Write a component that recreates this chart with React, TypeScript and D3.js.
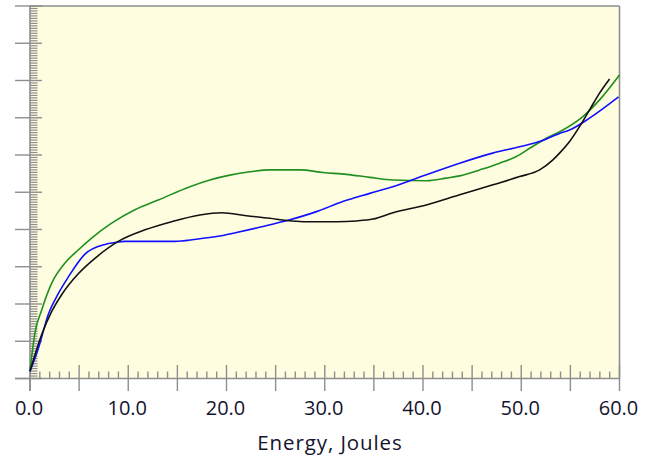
import React from "react";
import * as d3 from "d3";

// Energy absorbed (Joules) on the x axis, response on an unlabelled 0–10 scale.
const greenEnergy = [0, 0.51, 1.19, 2.21, 3.56, 4.91, 6.27, 8.31, 10.68, 13.05, 16.27, 18.31, 20.34, 22.38, 24.41, 27.46, 29.83, 32.21, 34.58, 36.95, 40.34, 42.38, 43.73, 45.76, 47.8, 49.5, 50.85, 52.55, 54.24, 56.27, 57.97, 60];
const greenValue = [0.2, 1.23, 1.84, 2.56, 3.1, 3.45, 3.77, 4.17, 4.53, 4.79, 5.15, 5.33, 5.46, 5.55, 5.6, 5.6, 5.53, 5.48, 5.4, 5.33, 5.31, 5.38, 5.44, 5.6, 5.78, 5.96, 6.18, 6.45, 6.67, 7.03, 7.48, 8.15];

const blueEnergy = [0, 0.84, 1.86, 2.88, 3.89, 5.59, 7.63, 8.64, 9.66, 14.75, 16.95, 18.99, 21.02, 23.7, 26.44, 29.16, 31.83, 34.58, 36.92, 40.34, 43.73, 47.09, 49.83, 51.87, 53.9, 54.92, 56.95, 59.9];
const blueValue = [0.19, 0.8, 1.72, 2.28, 2.72, 3.34, 3.6, 3.65, 3.68, 3.68, 3.74, 3.81, 3.92, 4.08, 4.26, 4.48, 4.75, 4.97, 5.15, 5.47, 5.78, 6.05, 6.22, 6.36, 6.58, 6.67, 6.99, 7.56];

const blackEnergy = [0, 1.19, 2.21, 3.22, 4.91, 6.95, 8.98, 11.7, 14.41, 17.29, 19.5, 22.04, 24.41, 26.11, 27.8, 31.19, 33.22, 34.91, 36.95, 40.34, 43.73, 47.12, 49.83, 51.87, 53.22, 53.9, 54.92, 55.93, 56.95, 57.97, 58.99];
const blackValue = [0.2, 1.18, 1.8, 2.25, 2.81, 3.3, 3.68, 3.99, 4.21, 4.39, 4.45, 4.37, 4.3, 4.24, 4.21, 4.21, 4.23, 4.28, 4.45, 4.66, 4.93, 5.2, 5.42, 5.6, 5.87, 6.05, 6.36, 6.76, 7.21, 7.66, 8.04];

const xTickLabels = ["0.0", "10.0", "20.0", "30.0", "40.0", "50.0", "60.0"];
const xAxisTitle = "Energy, Joules";

const W = 657;
const H = 461;
const left = 30;
const right = 619.5;
const top = 6;
const bottom = 378.5;

const axisColor = "#8e8e8e";
const textColor = "#14142e";

export default function App() {
  const x = d3.scaleLinear().domain([0, 60]).range([left, right]);
  const y = d3.scaleLinear().domain([0, 10]).range([bottom, top]);

  const series = [
    { name: "green", color: "#1f8f1f", xs: greenEnergy, ys: greenValue },
    { name: "blue", color: "#1010ff", xs: blueEnergy, ys: blueValue },
    { name: "black", color: "#111111", xs: blackEnergy, ys: blackValue },
  ];

  const line = d3
    .line<[number, number]>()
    .x((d) => x(d[0]))
    .y((d) => y(d[1]))
    .curve(d3.curveMonotoneX);

  const xMinor = d3.range(0, 61, 1);
  const yMinor = d3.range(0, 150 + 1, 1).map((i) => i / 15);

  return (
    <svg
      width={W}
      height={H}
      style={{ position: "absolute", left: 0, top: 0, background: "#ffffff" }}
    >
      <rect x={left} y={top} width={right - left} height={bottom - top} fill="#fffde0" />

      {/* ticks along the energy axis: every joule, longer every five */}
      {xMinor.map((v) =>
        v % 5 === 0 ? (
          <line key={"xm" + v} x1={x(v)} x2={x(v)} y1={bottom - 13.5} y2={bottom + 12.5} stroke={axisColor} strokeWidth={1.4} />
        ) : (
          <line key={"xm" + v} x1={x(v)} x2={x(v)} y1={bottom - 7} y2={bottom} stroke={axisColor} strokeWidth={1.4} />
        )
      )}

      {/* ticks along the vertical axis */}
      {yMinor.map((v, i) =>
        i % 15 === 0 ? (
          <line key={"ym" + i} x1={left - 15} x2={left + 12} y1={y(v)} y2={y(v)} stroke={axisColor} strokeWidth={1.4} />
        ) : (
          <line key={"ym" + i} x1={left} x2={left + 7.5} y1={y(v)} y2={y(v)} stroke={axisColor} strokeWidth={1.2} />
        )
      )}

      {/* frame */}
      <line x1={left - 15} x2={right} y1={bottom} y2={bottom} stroke={axisColor} strokeWidth={1.6} />
      <line x1={left} x2={right} y1={top} y2={top} stroke={axisColor} strokeWidth={1.6} />
      <line x1={left} x2={left} y1={top} y2={bottom + 12.5} stroke={axisColor} strokeWidth={1.6} />
      <line x1={right} x2={right} y1={top} y2={bottom} stroke={axisColor} strokeWidth={1.6} />

      {series.map((s) => (
        <path
          key={s.name}
          d={line(s.xs.map((v, i) => [v, s.ys[i]] as [number, number])) || ""}
          fill="none"
          stroke={s.color}
          strokeWidth={1.6}
          strokeLinejoin="round"
        />
      ))}

      {xTickLabels.map((t, i) => (
        <text
          key={t}
          x={x(i * 10) - 1}
          y={414.5}
          textAnchor="middle"
          fontFamily="'Open Sans', sans-serif"
          fontSize={20}
          fontWeight={500}
          fill={textColor}
        >
          {t}
        </text>
      ))}

      <text
        x={330}
        y={450}
        textAnchor="middle"
        fontFamily="'Open Sans', sans-serif"
        fontSize={20.5}
        fontWeight={500}
        letterSpacing={0.9}
        fill={textColor}
      >
        {xAxisTitle}
      </text>
    </svg>
  );
}
